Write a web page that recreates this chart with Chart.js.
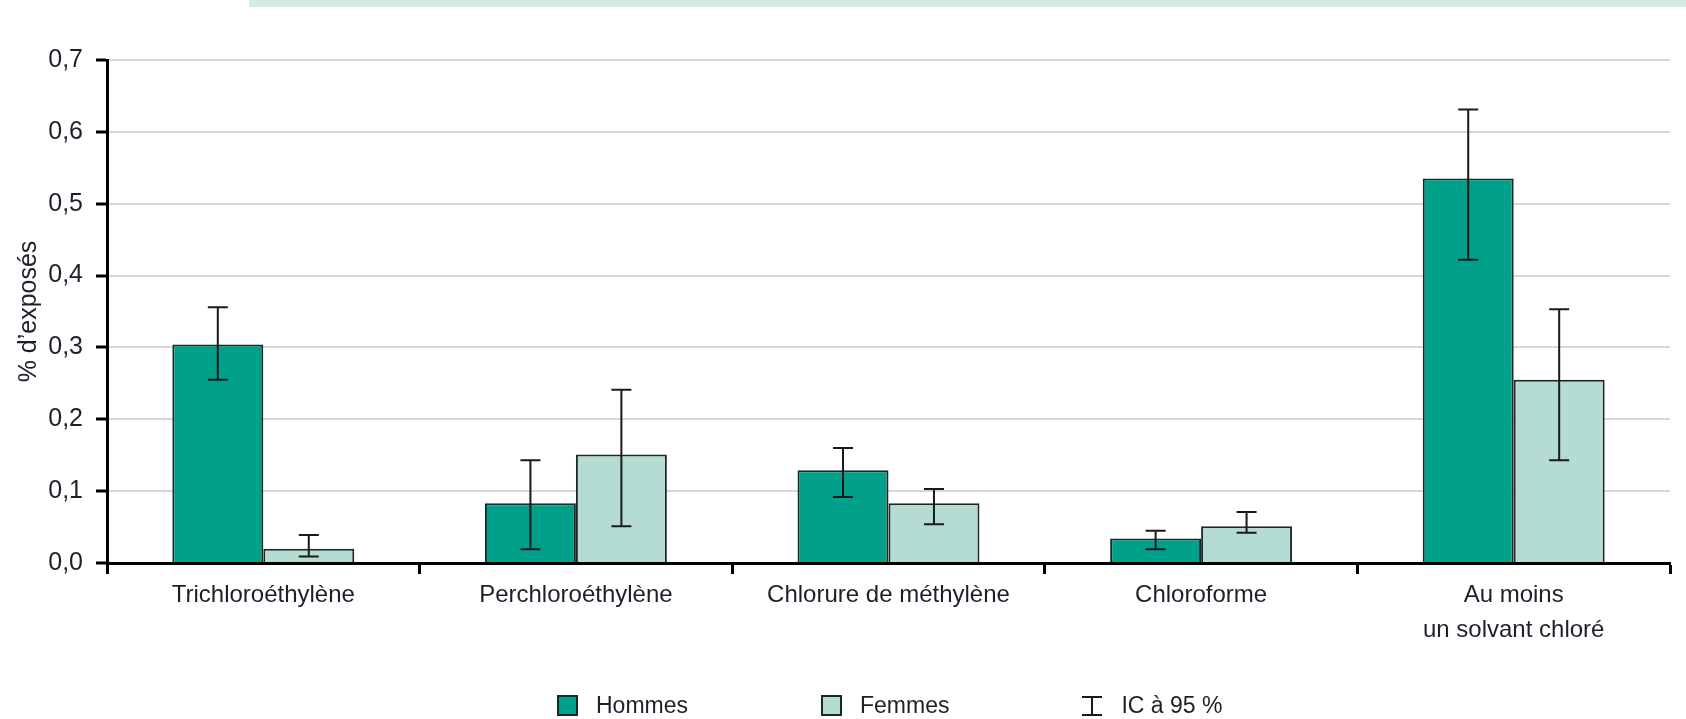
<!DOCTYPE html>
<html lang="fr">
<head>
    <meta charset="UTF-8">
    <title>Solvants chlorés - % d'exposés</title>
    <script src="https://cdn.jsdelivr.net/npm/chart.js"></script>
    <style>
        body { margin: 0; background: #fff; }
        #wrap { position: relative; width: 1686px; height: 719px; overflow: hidden; }
        #band { position: absolute; left: 249px; top: 0; width: 1437px; height: 7px; background: #d5eae6; }
        #legend { position: absolute; left: 557px; top: 692px; display: flex; align-items: center;
                  font-family: 'Liberation Sans', Arial, sans-serif; font-size: 23px; color: #1f1f2c; }
        #legend .item { display: flex; align-items: center; margin-right: 133px; }
        #legend .box { width: 17px; height: 17px; border: 2px solid #1d2826; margin-right: 18px; }
        #legend .ic { position: relative; width: 20px; height: 20px; margin-right: 19px; box-sizing: border-box;
                      border-top: 2px solid #1a1a1a; border-bottom: 2px solid #1a1a1a; }
        #legend .ic::before { content: ''; position: absolute; left: 9px; top: 0; width: 2px; height: 16px; background: #1a1a1a; }
    </style>
</head>
<body>
<div id="wrap">
    <div id="band"></div>
    <canvas id="solvChart" width="1686" height="719"></canvas>
    <div id="legend"></div>
</div>
<script>
    const categories = ['Trichloroéthylène', 'Perchloroéthylène', 'Chlorure de méthylène', 'Chloroforme', ['Au moins', 'un solvant chloré']];

    const hommes     = [0.304, 0.083, 0.129, 0.034, 0.535];
    const hommesLow  = [0.255, 0.019, 0.092, 0.019, 0.422];
    const hommesHigh = [0.356, 0.143, 0.160, 0.045, 0.631];

    const femmes     = [0.020, 0.151, 0.083, 0.051, 0.255];
    const femmesLow  = [0.009, 0.051, 0.054, 0.042, 0.143];
    const femmesHigh = [0.039, 0.241, 0.103, 0.071, 0.353];

    const yTicks = [0, 0.1, 0.2, 0.3, 0.4, 0.5, 0.6, 0.7];

    const FONT = "'Liberation Sans', Arial, sans-serif";
    const TEXT = '#1f1f2c';

    // error bars (IC a 95 %) drawn on top of each bar
    const errorBars = {
        id: 'errorBars',
        afterDatasetsDraw(chart) {
            const ctx = chart.ctx;
            const y = chart.scales.y;
            ctx.save();
            ctx.strokeStyle = '#1a1a1a';
            ctx.lineWidth = 2;
            chart.data.datasets.forEach((ds, i) => {
                chart.getDatasetMeta(i).data.forEach((bar, j) => {
                    const top = y.getPixelForValue(ds.high[j]);
                    const bot = y.getPixelForValue(ds.low[j]);
                    ctx.beginPath();
                    ctx.moveTo(bar.x, top); ctx.lineTo(bar.x, bot);
                    ctx.moveTo(bar.x - 10, top); ctx.lineTo(bar.x + 10, top);
                    ctx.moveTo(bar.x - 10, bot); ctx.lineTo(bar.x + 10, bot);
                    ctx.stroke();
                });
            });
            ctx.restore();
        }
    };

    // html legend built from the chart's own legend items
    const htmlLegend = {
        id: 'htmlLegend',
        afterUpdate(chart) {
            const el = document.getElementById('legend');
            el.innerHTML = '';
            const items = chart.options.plugins.legend.labels.generateLabels(chart);
            items.forEach(it => {
                const d = document.createElement('div');
                d.className = 'item';
                const b = document.createElement('span');
                b.className = 'box';
                b.style.background = it.fillStyle;
                d.appendChild(b);
                d.appendChild(document.createTextNode(it.text));
                el.appendChild(d);
            });
            const d = document.createElement('div');
            d.className = 'item';
            const s = document.createElement('span');
            s.className = 'ic';
            d.appendChild(s);
            d.appendChild(document.createTextNode('IC à 95 %'));
            el.appendChild(d);
        }
    };

    new Chart(document.getElementById('solvChart'), {
        type: 'bar',
        data: {
            labels: categories,
            datasets: [
                { label: 'Hommes', data: hommes, low: hommesLow, high: hommesHigh,
                  backgroundColor: '#00a08a', borderColor: '#1d2826', borderWidth: 2 },
                { label: 'Femmes', data: femmes, low: femmesLow, high: femmesHigh,
                  backgroundColor: '#b4dcd3', borderColor: '#1d2826', borderWidth: 2 }
            ]
        },
        options: {
            responsive: false,
            animation: false,
            devicePixelRatio: 1,
            categoryPercentage: 0.582,
            barPercentage: 1,
            layout: { padding: { top: 60, right: 16, left: 0, bottom: 0 } },
            plugins: {
                legend: { display: false },
                tooltip: { enabled: false }
            },
            scales: {
                x: {
                    afterFit(scale) { scale.height = 156; },
                    border: { display: true, color: '#000', width: 3 },
                    grid: { display: true, drawOnChartArea: false, offset: true,
                            tickLength: 11, tickColor: '#000', tickWidth: 3, color: '#000' },
                    ticks: { color: TEXT, padding: 4, maxRotation: 0, autoSkip: false,
                             font: { family: FONT, size: 24, lineHeight: 1.45 } }
                },
                y: {
                    min: 0,
                    max: 0.7,
                    afterFit(scale) { scale.width = 107; },
                    afterBuildTicks(scale) { scale.ticks = yTicks.map(v => ({ value: v })); },
                    border: { display: true, color: '#000', width: 3 },
                    grid: {
                        color: c => (c.tick && c.tick.value === 0 ? 'rgba(0,0,0,0)' : '#d8d8d8'),
                        lineWidth: 2, tickLength: 11, tickColor: '#000', tickWidth: 3
                    },
                    ticks: {
                        color: TEXT, padding: 13,
                        font: { family: FONT, size: 25 },
                        callback: v => v.toFixed(1).replace('.', ',')
                    },
                    title: { display: true, text: "% d’exposés", color: TEXT,
                             padding: { top: 14, bottom: 0 },
                             font: { family: FONT, size: 25 } }
                }
            }
        },
        plugins: [errorBars, htmlLegend]
    });
</script>
</body>
</html>
